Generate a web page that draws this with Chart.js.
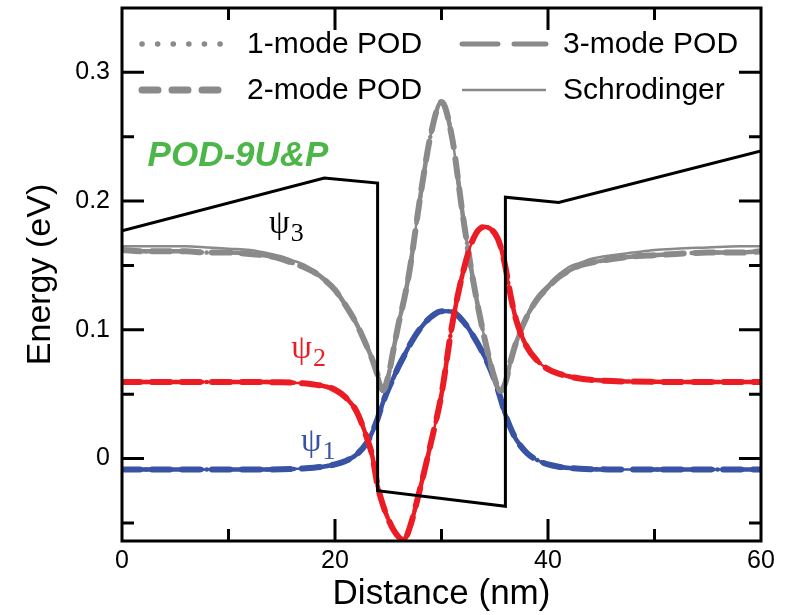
<!DOCTYPE html>
<html lang="en">
<head>
  <meta charset="utf-8"/>
  <title>POD-9U&amp;P wavefunctions</title>
  <script src="https://cdn.jsdelivr.net/npm/chart.js"></script>
  <style>
    html, body { margin: 0; padding: 0; background: #fff; }
    #wrap { width: 793px; height: 615px; }
  </style>
</head>
<body>
<div id="wrap"><canvas id="podChart" width="793" height="615"></canvas></div>
<script>
  // distance grid (nm) shared by the three wavefunctions
  const distance = [0, 2, 4, 6, 8, 10, 12, 14, 15, 16, 17, 18, 19, 20, 21, 22, 23, 23.5, 24, 24.5, 25,
    25.5, 26, 26.5, 27, 28, 29, 30, 31, 32, 33, 34, 35, 35.5, 36, 36.5, 37, 38, 39, 40, 41, 42,
    43, 44, 46, 48, 50, 52, 55, 58, 60];

  // psi1 (blue), psi2 (red), psi3 (gray) in eV
  const psi1 = [-0.0085, -0.0085, -0.0085, -0.0085, -0.0085, -0.0085, -0.0085, -0.0084, -0.0083, -0.0081,
    -0.0077, -0.0071, -0.0061, -0.0045, -0.0018, 0.0030, 0.0125, 0.0205, 0.0310, 0.0435, 0.0540,
    0.0630, 0.0720, 0.0800, 0.0880, 0.1010, 0.1100, 0.1145, 0.1140, 0.1070, 0.0950, 0.0800, 0.0610,
    0.0480, 0.0340, 0.0235, 0.0150, 0.0045, -0.0012, -0.0045, -0.0063, -0.0073, -0.0079, -0.0082,
    -0.0084, -0.0085, -0.0085, -0.0085, -0.0085, -0.0085, -0.0085];
  const psi2 = [0.0595, 0.0595, 0.0595, 0.0595, 0.0595, 0.0595, 0.0595, 0.0594, 0.0593, 0.0590,
    0.0585, 0.0576, 0.0562, 0.0535, 0.0475, 0.0370, 0.0160, 0.0020, -0.0210, -0.0360, -0.0470,
    -0.0555, -0.0610, -0.0625, -0.0540, -0.0230, 0.0120, 0.0500, 0.1040, 0.1440, 0.1710, 0.1800, 0.1750,
    0.1660, 0.1490, 0.1260, 0.1080, 0.0870, 0.0760, 0.0695, 0.0660, 0.0638, 0.0622, 0.0612,
    0.0602, 0.0598, 0.0596, 0.0595, 0.0595, 0.0595, 0.0595];
  const psi3 = [0.165, 0.165, 0.165, 0.165, 0.164, 0.163, 0.162, 0.159, 0.157, 0.154,
    0.151, 0.146, 0.140, 0.132, 0.120, 0.106, 0.088, 0.078, 0.066, 0.053, 0.064,
    0.085, 0.106, 0.124, 0.146, 0.203, 0.252, 0.277, 0.249, 0.189, 0.137, 0.095, 0.062,
    0.052, 0.059, 0.076, 0.090, 0.111, 0.126, 0.135, 0.143, 0.149, 0.152, 0.155,
    0.158, 0.160, 0.162, 0.163, 0.164, 0.165, 0.165];
  // POD curves of psi3 sit a little below the Schrodinger one on the flat parts
  const psi3Pod = [0.162, 0.161, 0.161, 0.161, 0.160, 0.160, 0.159, 0.157, 0.155, 0.152,
    0.149, 0.145, 0.139, 0.131, 0.119, 0.105, 0.087, 0.077, 0.065, 0.053, 0.064,
    0.085, 0.106, 0.124, 0.146, 0.203, 0.252, 0.277, 0.249, 0.189, 0.137, 0.095, 0.062,
    0.052, 0.059, 0.076, 0.090, 0.110, 0.124, 0.133, 0.141, 0.146, 0.150, 0.152,
    0.155, 0.157, 0.158, 0.159, 0.160, 0.160, 0.161];

  // conduction band edge (black)
  const wellX = [0, 19, 24, 24, 36, 36, 41, 60];
  const wellE = [0.177, 0.218, 0.214, -0.025, -0.037, 0.203, 0.199, 0.239];

  const xTicks = [0, 20, 40, 60];
  const xMinor = [10, 30, 50];
  const yTicks = [0, 0.1, 0.2, 0.3];
  const yMinor = [-0.05, 0.05, 0.15, 0.25];

  const FONT = '"Liberation Sans", Arial, Helvetica, sans-serif';
  const SERIF = '"Liberation Serif", "Times New Roman", serif';
  const GRAY = '#8a8a8a', RED = '#ec1c24', BLUE = '#3953a4';

  const lineStyles = {
    mode1: { borderWidth: 4.5, borderDash: [0.1, 12], borderCapStyle: 'round' },
    mode2: { borderWidth: 6, borderDash: [18, 12], borderCapStyle: 'round' },
    mode3: { borderWidth: 4.5, borderDash: [34, 12], borderCapStyle: 'round' },
    schrodinger: { borderWidth: 2.5, borderDash: [] }
  };
  // legend samples are drawn a bit heavier than the curves
  const legendStyles = {
    mode1: { width: 5.5, dash: [0.1, 15.5], cap: 'round' },
    mode2: { width: 7, dash: [16, 14], cap: 'round' },
    mode3: { width: 5, dash: [36, 16], cap: 'round' },
    schrodinger: { width: 2.5, dash: [], cap: 'butt' }
  };

  function toPoints(xs, ys) {
    return xs.map((x, i) => ({ x: x, y: ys[i] }));
  }

  function psiSets(color, sch, pod) {
    return ['mode1', 'mode2', 'mode3', 'schrodinger'].map(k => Object.assign({
      label: k,
      data: toPoints(distance, k === 'schrodinger' ? sch : pod),
      borderColor: color,
      pointRadius: 0,
      fill: false,
      cubicInterpolationMode: 'monotone'
    }, lineStyles[k]));
  }

  const datasets = [{
    label: 'band',
    data: toPoints(wellX, wellE),
    borderColor: '#000',
    borderWidth: 3,
    pointRadius: 0,
    tension: 0,
    fill: false
  }].concat(psiSets(RED, psi2, psi2), psiSets(GRAY, psi3, psi3Pod), psiSets(BLUE, psi1, psi1));

  // box, inward ticks on all four sides
  const framePlugin = {
    id: 'frame',
    afterDatasetsDraw(chart) {
      const { ctx, chartArea: a, scales: { x, y } } = chart;
      ctx.save();
      ctx.strokeStyle = '#000';
      ctx.lineWidth = 3;
      ctx.lineCap = 'butt';
      ctx.beginPath();
      xTicks.concat(xMinor).forEach(v => {
        if (v <= 0 || v >= 60) return;
        const len = xTicks.includes(v) ? 22 : 12;
        const px = x.getPixelForValue(v);
        ctx.moveTo(px, a.bottom); ctx.lineTo(px, a.bottom - len);
        ctx.moveTo(px, a.top); ctx.lineTo(px, a.top + len);
      });
      yTicks.concat(yMinor).forEach(v => {
        const len = yTicks.includes(v) ? 22 : 12;
        const py = y.getPixelForValue(v);
        ctx.moveTo(a.left, py); ctx.lineTo(a.left + len, py);
        ctx.moveTo(a.right, py); ctx.lineTo(a.right - len, py);
      });
      ctx.stroke();
      ctx.strokeRect(a.left, a.top, a.width, a.height);
      ctx.restore();
    }
  };

  // legend box, panel tag and psi labels
  const notesPlugin = {
    id: 'notes',
    afterDatasetsDraw(chart) {
      const { ctx, chartArea: a, scales: { x, y } } = chart;
      ctx.save();

      const entries = [
        { text: '1-mode POD', style: 'mode1', col: 0, row: 0 },
        { text: '2-mode POD', style: 'mode2', col: 0, row: 1 },
        { text: '3-mode POD', style: 'mode3', col: 1, row: 0 },
        { text: 'Schrodinger', style: 'schrodinger', col: 1, row: 1 }
      ];
      const colLine = [[a.left + 20, a.left + 104], [a.left + 340, a.left + 424]];
      const colText = [a.left + 125, a.left + 441];
      const rowY = [a.top + 36, a.top + 82];
      ctx.font = '30px ' + FONT;
      ctx.textBaseline = 'middle';
      entries.forEach(e => {
        const s = legendStyles[e.style];
        const yy = rowY[e.row];
        ctx.strokeStyle = GRAY;
        ctx.lineWidth = s.width;
        ctx.setLineDash(s.dash);
        ctx.lineCap = s.cap;
        ctx.beginPath();
        ctx.moveTo(colLine[e.col][0], yy);
        ctx.lineTo(colLine[e.col][1], yy);
        ctx.stroke();
        ctx.fillStyle = '#000';
        ctx.fillText(e.text, colText[e.col], yy + 1);
      });
      ctx.setLineDash([]);

      ctx.textBaseline = 'alphabetic';
      ctx.fillStyle = '#4cb648';
      ctx.font = 'italic bold 35px ' + FONT;
      ctx.fillText('POD-9U&P', x.getPixelForValue(2.4), y.getPixelForValue(0.227));

      const psi = (xv, yv, sub, color) => {
        const px = x.getPixelForValue(xv), py = y.getPixelForValue(yv);
        ctx.fillStyle = color;
        ctx.font = '33px ' + SERIF;
        ctx.fillText('\u03C8', px, py);
        const w = ctx.measureText('\u03C8').width;
        ctx.font = '26px ' + SERIF;
        ctx.fillText(sub, px + w + 1, py + 8);
      };
      psi(13.8, 0.175, '3', '#000');
      psi(15.9, 0.078, '2', RED);
      psi(16.8, 0.006, '1', BLUE);
      ctx.restore();
    }
  };

  new Chart(document.getElementById('podChart'), {
    type: 'line',
    data: { datasets: datasets },
    options: {
      responsive: false,
      animation: false,
      devicePixelRatio: 1,
      layout: { padding: { top: 8, right: 32, left: 0, bottom: 0 } },
      plugins: { legend: { display: false }, tooltip: { enabled: false } },
      scales: {
        x: {
          type: 'linear',
          min: 0,
          max: 60,
          grid: { display: false, drawTicks: false },
          border: { display: false },
          afterBuildTicks: s => { s.ticks = xTicks.map(v => ({ value: v })); },
          afterFit: s => {
            s.height = 74;
            s.paddingLeft = 0; s.paddingRight = 0;
          },
          ticks: { color: '#000', font: { family: FONT, size: 25 }, padding: 5, maxRotation: 0,
            callback: v => String(v) },
          title: { display: true, text: 'Distance (nm)', color: '#000',
            font: { family: FONT, size: 35 }, padding: { top: 0, bottom: 0 } }
        },
        y: {
          type: 'linear',
          min: -0.064,
          max: 0.35,
          grid: { display: false, drawTicks: false },
          border: { display: false },
          afterBuildTicks: s => { s.ticks = yTicks.map(v => ({ value: v })); },
          afterFit: s => {
            s.width = 122;
            s.paddingTop = 0; s.paddingBottom = 0;
          },
          ticks: { color: '#000', font: { family: FONT, size: 25 }, padding: 12,
            callback: v => (v === 0 ? '0' : v.toFixed(1)) },
          title: { display: true, text: 'Energy (eV)', color: '#000',
            font: { family: FONT, size: 34 }, padding: { top: 20, bottom: 0 } }
        }
      }
    },
    plugins: [framePlugin, notesPlugin]
  });
</script>
</body>
</html>
